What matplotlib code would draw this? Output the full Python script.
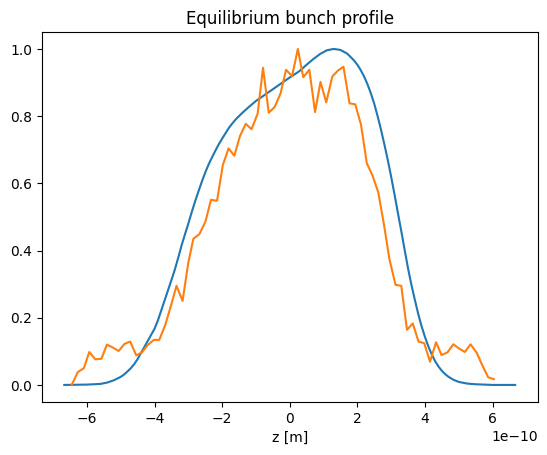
import matplotlib
matplotlib.use("Agg")
import matplotlib.pyplot as plt
import numpy as np

# Theoretical equilibrium profile (z in units of 1e-10 m)
z_theory = [-6.67, -6.0, -5.6, -5.4, -5.2, -5.0, -4.9, -4.8, -4.7, -4.6, -4.5, -4.4,
            -4.3, -4.2, -4.1, -4.0, -3.9, -3.8, -3.7, -3.6, -3.5, -3.4, -3.3, -3.2,
            -3.1, -3.0, -2.9, -2.8, -2.7, -2.6, -2.5, -2.4, -2.3, -2.2, -2.1, -2.0,
            -1.9, -1.8, -1.7, -1.6, -1.5, -1.4, -1.2, -1.0, -0.8, -0.6, -0.4, -0.2,
            0.0, 0.2, 0.3, 0.5, 0.7, 0.9, 1.1, 1.3, 1.5, 1.7, 1.9, 2.0, 2.1, 2.2, 2.3,
            2.4, 2.5, 2.6, 2.7, 2.8, 2.9, 3.0, 3.1, 3.2, 3.3, 3.4, 3.5, 3.6, 3.7, 3.8,
            3.9, 4.0, 4.1, 4.2, 4.3, 4.4, 4.5, 4.6, 4.7, 4.85, 5.0, 5.25, 5.5, 6.0, 6.67]
v_theory = [0.0, 0.001, 0.003, 0.007, 0.014, 0.024, 0.031, 0.04, 0.05, 0.062, 0.077,
            0.095, 0.113, 0.131, 0.149, 0.167, 0.192, 0.222, 0.252, 0.282, 0.312, 0.343,
            0.378, 0.415, 0.448, 0.48, 0.514, 0.546, 0.576, 0.605, 0.632, 0.656, 0.677,
            0.697, 0.716, 0.733, 0.749, 0.765, 0.778, 0.79, 0.8, 0.81, 0.828, 0.845,
            0.859, 0.873, 0.887, 0.901, 0.915, 0.928, 0.935, 0.953, 0.97, 0.985, 0.996,
            1.0, 0.997, 0.986, 0.966, 0.953, 0.937, 0.918, 0.895, 0.868, 0.837, 0.8,
            0.76, 0.716, 0.67, 0.62, 0.567, 0.512, 0.458, 0.402, 0.347, 0.298, 0.254,
            0.212, 0.175, 0.143, 0.115, 0.091, 0.071, 0.055, 0.042, 0.032, 0.024, 0.015,
            0.009, 0.004, 0.002, 0.0, 0.0]

# Simulated (histogram) profile
z_sim = [-6.45, -6.27, -6.09, -5.93, -5.75, -5.57, -5.41, -5.23, -5.06, -4.89, -4.72,
         -4.54, -4.37, -4.20, -4.02, -3.86, -3.68, -3.51, -3.35, -3.17, -3.00, -2.85,
         -2.67, -2.49, -2.33, -2.15, -1.98, -1.81, -1.64, -1.47, -1.30, -1.13, -0.95,
         -0.79, -0.62, -0.44, -0.27, -0.11, 0.07, 0.24, 0.40, 0.58, 0.75, 0.91, 1.08,
         1.26, 1.42, 1.59, 1.77, 1.94, 2.11, 2.28, 2.45, 2.62, 2.79, 2.95, 3.13, 3.30,
         3.47, 3.64, 3.81, 3.98, 4.15, 4.33, 4.49, 4.67, 4.84, 5.00, 5.18, 5.35, 5.53,
         5.69, 5.87, 6.04]
v_sim = [0.0, 0.038, 0.05, 0.098, 0.076, 0.078, 0.12, 0.111, 0.101, 0.122, 0.129,
         0.088, 0.097, 0.119, 0.134, 0.134, 0.179, 0.237, 0.295, 0.25, 0.364, 0.435,
         0.449, 0.487, 0.551, 0.548, 0.654, 0.704, 0.682, 0.741, 0.777, 0.761, 0.807,
         0.944, 0.81, 0.828, 0.868, 0.938, 0.919, 1.0, 0.916, 0.938, 0.812, 0.902, 0.841,
         0.918, 0.935, 0.947, 0.838, 0.835, 0.774, 0.66, 0.623, 0.573, 0.476, 0.374,
         0.298, 0.295, 0.164, 0.183, 0.129, 0.124, 0.069, 0.127, 0.089, 0.097, 0.121,
         0.109, 0.098, 0.121, 0.096, 0.06, 0.023, 0.017]

scale = 1e-10

fig, ax = plt.subplots(figsize=(6.4, 4.8), dpi=100)
ax.plot(np.array(z_theory) * scale, v_theory)
ax.plot(np.array(z_sim) * scale, v_sim)
ax.set_title("Equilibrium bunch profile")
ax.set_xlabel("z [m]")
fig.savefig("out.png", dpi=100, bbox_inches="tight")
